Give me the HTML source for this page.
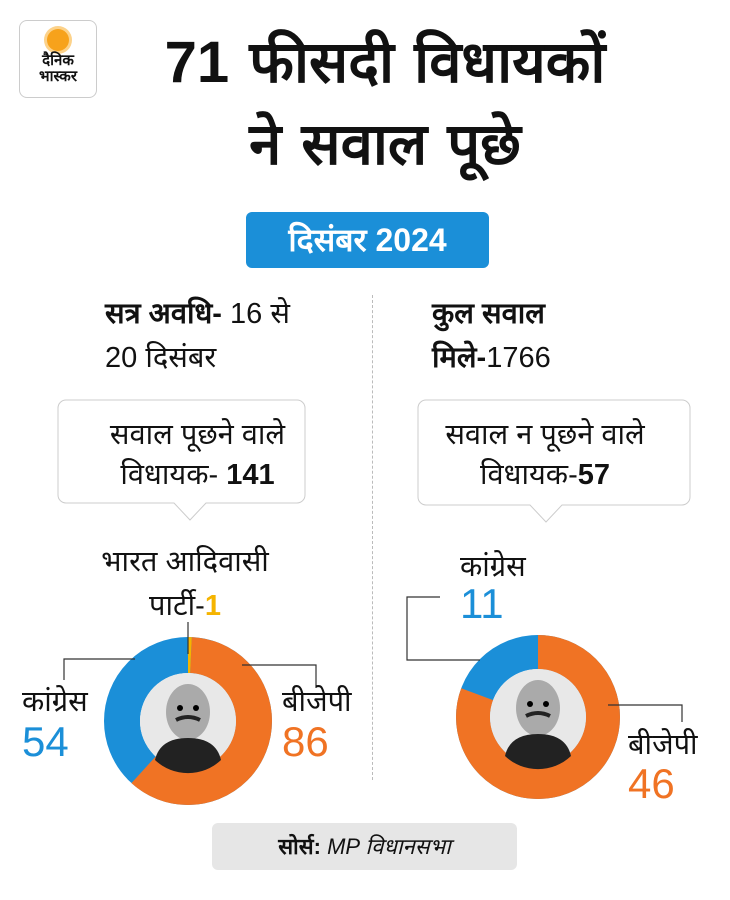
<!DOCTYPE html>
<html><head><meta charset="utf-8"><style>
body{margin:0;width:730px;height:900px;background:#fff;font-family:"Liberation Sans","Noto Sans CJK SC",sans-serif;color:#111;position:relative;overflow:hidden}
.a{position:absolute;white-space:nowrap}
</style></head><body>
<div class="a" style="left:19px;top:20px;width:76px;height:76px;border:1px solid #ccc;border-radius:8px;text-align:center">
<div style="width:22px;height:22px;border-radius:50%;background:#f7a21b;margin:8px auto 2px;box-shadow:0 0 0 3px #fcd28a"></div>
<div style="font-weight:bold;font-size:15px;line-height:16px">दैनिक<br>भास्कर</div></div>
<div class="a" style="left:0;width:730px;text-align:center;top:22px;font-size:58px;font-weight:bold;line-height:82px;padding-left:40px;box-sizing:border-box;word-spacing:4px">71 फीसदी विधायकों<br>ने सवाल पूछे</div>
<div class="a" style="left:246px;top:212px;width:243px;height:56px;background:#1b8fd8;border-radius:6px;color:#fff;font-weight:bold;font-size:32px;text-align:center;line-height:56px">दिसंबर 2024</div>
<div class="a" style="left:372px;top:295px;height:485px;border-left:1px dashed #bbb"></div>
<div class="a" style="left:105px;top:292px;font-size:29px;line-height:44px"><b>सत्र अवधि-</b> 16 से<br>20 दिसंबर</div>
<div class="a" style="left:432px;top:292px;font-size:29px;line-height:44px"><b>कुल सवाल<br>मिले-</b>1766</div>
<svg class="a" style="left:0;top:0" width="730" height="900">
<path d="M66 400H297a8 8 0 0 1 8 8V495a8 8 0 0 1-8 8H206L190 520L174 503H66a8 8 0 0 1-8-8V408a8 8 0 0 1 8-8Z" fill="#fff" stroke="#ccc"/>
<path d="M426 400H682a8 8 0 0 1 8 8V497a8 8 0 0 1-8 8H562L546 522L530 505H426a8 8 0 0 1-8-8V408a8 8 0 0 1 8-8Z" fill="#fff" stroke="#ccc"/>
<g transform="translate(188,721) rotate(-90)" fill="none" stroke-width="36">
<circle r="66" stroke="#1b8fd8"/>
<circle r="66" stroke="#f07324" stroke-dasharray="253 1000" stroke-dashoffset="-3"/>
<circle r="66" stroke="#f5b400" stroke-dasharray="3 1000"/>
</g>
<g transform="translate(538,717) rotate(-90)" fill="none" stroke-width="34">
<circle r="65" stroke="#1b8fd8"/>
<circle r="65" stroke="#f07324" stroke-dasharray="329.5 1000"/>
</g>
<g id="f1"><circle cx="188" cy="721" r="48" fill="#e8e8e8"/><ellipse cx="188" cy="712" rx="22" ry="28" fill="#aaa"/><path d="M155 760Q160 738 188 738Q216 738 221 760A48 48 0 0 1 155 760Z" fill="#222"/><path d="M176 720q12-6 24 0" stroke="#222" stroke-width="4" fill="none"/><circle cx="180" cy="708" r="3"/><circle cx="196" cy="708" r="3"/></g>
<use href="#f1" x="350" y="-4"/>
<g stroke="#333" fill="none" stroke-width="1.2">
<path d="M188 622V654"/><path d="M135 659H64V680"/><path d="M242 665H316V688"/>
<path d="M480 660H407V597H440"/><path d="M608 705H682V722"/>
</g>
</svg>
<div class="a" style="left:90px;top:415px;font-size:29px;line-height:40px;text-align:center;width:215px">सवाल पूछने वाले<br>विधायक- <b>141</b></div>
<div class="a" style="left:430px;top:415px;font-size:29px;line-height:40px;text-align:center;width:230px">सवाल न पूछने वाले<br>विधायक-<b>57</b></div>
<div class="a" style="left:90px;top:540px;font-size:29px;line-height:44px;text-align:center;width:190px">भारत आदिवासी<br>पार्टी-<b style="color:#f5b400">1</b></div>
<div class="a" style="left:22px;top:685px;font-size:29px;line-height:34px">कांग्रेस</div>
<div class="a" style="left:22px;top:718px;font-size:42px;color:#1b8fd8">54</div>
<div class="a" style="left:282px;top:685px;font-size:29px;line-height:34px">बीजेपी</div>
<div class="a" style="left:282px;top:718px;font-size:42px;color:#f07324">86</div>
<div class="a" style="left:460px;top:550px;font-size:29px;line-height:34px">कांग्रेस</div>
<div class="a" style="left:460px;top:580px;font-size:42px;color:#1b8fd8">11</div>
<div class="a" style="left:628px;top:728px;font-size:29px;line-height:34px">बीजेपी</div>
<div class="a" style="left:628px;top:760px;font-size:42px;color:#f07324">46</div>
<div class="a" style="left:212px;top:823px;width:305px;height:47px;background:#e6e6e6;border-radius:6px;text-align:center;line-height:47px;font-size:22px"><b>सोर्स:</b> <i>MP विधानसभा</i></div>
</body></html>
